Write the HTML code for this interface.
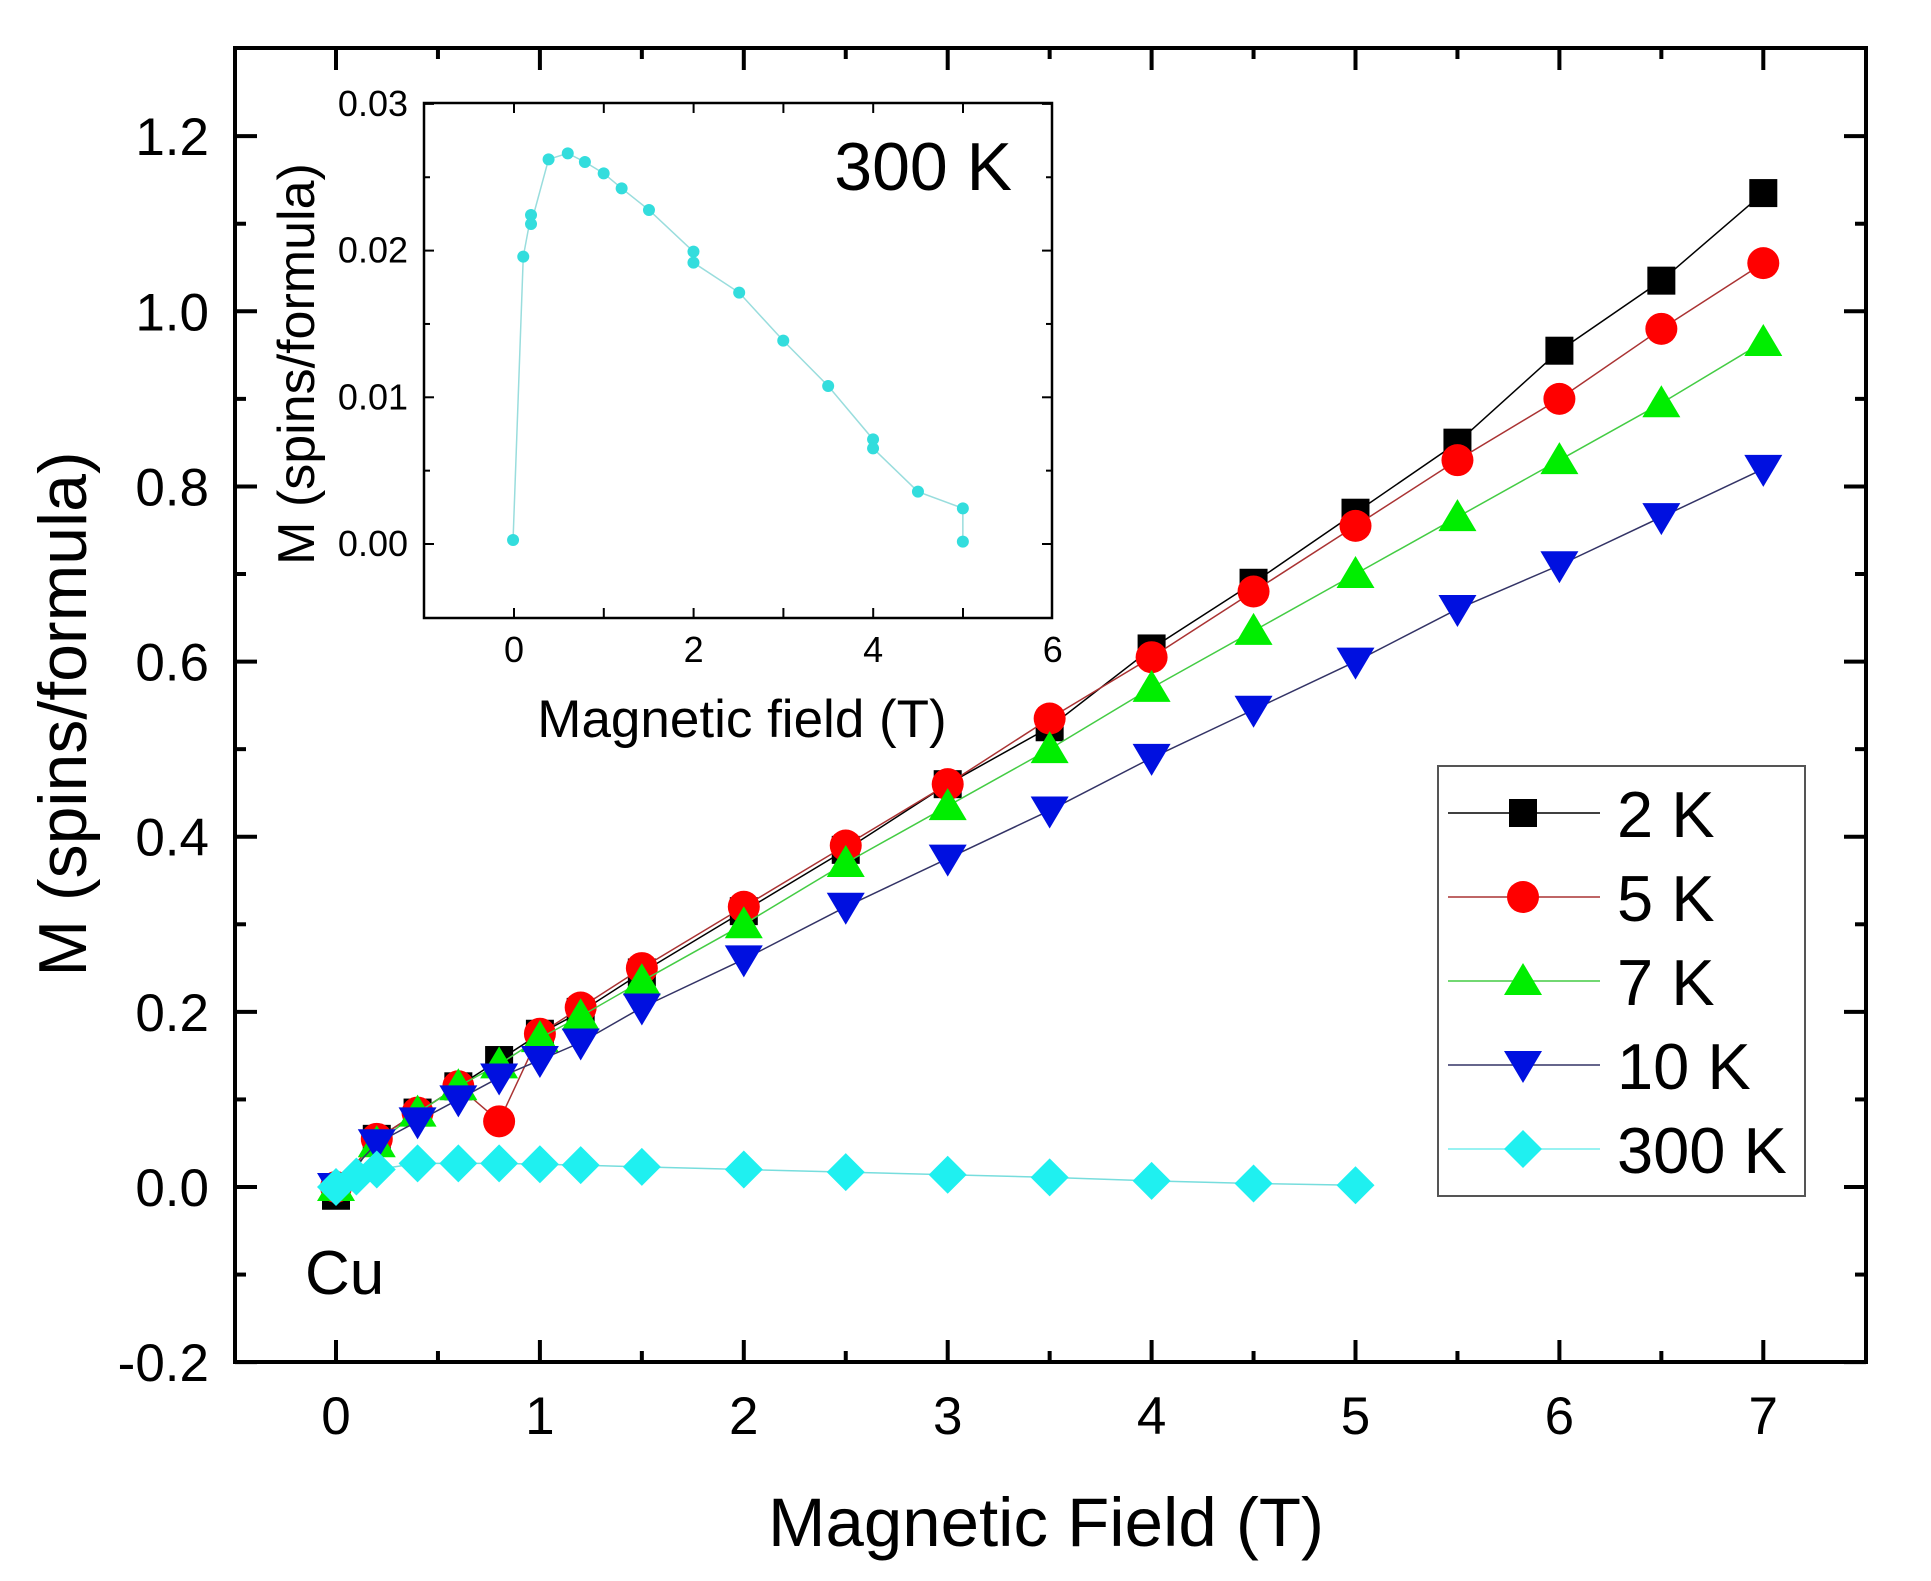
<!DOCTYPE html>
<html><head><meta charset="utf-8"><style>
html,body{margin:0;padding:0;background:#fff;}
svg{display:block;font-family:"Liberation Sans",Arial,sans-serif;}
</style></head><body>
<svg id="s" width="1931" height="1581" xmlns="http://www.w3.org/2000/svg"></svg>
<script>
const s=document.getElementById('s');let h='';
const X=v=>336+v*203.9, Y=v=>1187-v*875.7;
const L=235,R=1866,T=48,B=1362;
for(let v=-0.5;v<=7.51;v+=0.5){const x=X(v);if(x<L+2||x>R-2)continue;const maj=Math.abs(v-Math.round(v))<1e-6;const len=maj?22:11;
h+=`<line x1="${x}" y1="${B}" x2="${x}" y2="${B-len}" stroke="#000" stroke-width="4"/><line x1="${x}" y1="${T}" x2="${x}" y2="${T+len}" stroke="#000" stroke-width="4"/>`;
if(maj&&v>=0)h+=`<text x="${x}" y="1434" font-size="53" text-anchor="middle">${Math.round(v)}</text>`;}
for(let i=-2;i<=13;i++){const v=i/10;const y=Y(v);if(y<T+2||y>B+1)continue;const maj=i%2==0;const len=maj?22:11;
h+=`<line x1="${L}" y1="${y}" x2="${L+len}" y2="${y}" stroke="#000" stroke-width="4"/><line x1="${R}" y1="${y}" x2="${R-len}" y2="${y}" stroke="#000" stroke-width="4"/>`;
if(maj)h+=`<text x="209" y="${y+19}" font-size="53" text-anchor="end">${v.toFixed(1)}</text>`;}
h+=`<rect x="${L}" y="${T}" width="${R-L}" height="${B-T}" fill="none" stroke="#000" stroke-width="4"/>`;
h+=`<text x="1046" y="1546" font-size="69" text-anchor="middle">Magnetic Field (T)</text>`;
h+=`<text transform="translate(86,714) rotate(-90)" font-size="68" text-anchor="middle">M (spins/formula)</text>`;
h+=`<text x="305" y="1294" font-size="62">Cu</text>`;
const xs=[0,0.2,0.4,0.6,0.8,1,1.2,1.5,2,2.5,3,3.5,4,4.5,5,5.5,6,6.5,7];
const d={
k2:[-0.01,0.055,0.085,0.115,0.145,0.175,0.2,0.245,0.315,0.385,0.46,0.525,0.615,0.69,0.77,0.85,0.955,1.035,1.135],
k5:[0,0.055,0.085,0.115,0.075,0.175,0.205,0.25,0.32,0.39,0.46,0.535,0.605,0.68,0.755,0.83,0.90,0.98,1.055],
k7:[0,0.05,0.085,0.115,0.14,0.17,0.195,0.235,0.30,0.37,0.435,0.50,0.57,0.635,0.70,0.765,0.83,0.895,0.965],
k10:[0,0.05,0.075,0.1,0.125,0.145,0.165,0.205,0.26,0.32,0.375,0.43,0.49,0.545,0.60,0.66,0.71,0.765,0.82]};
const xs3=[0,0.1,0.2,0.4,0.6,0.8,1,1.2,1.5,2,2.5,3,3.5,4,4.5,5];
const d3=[0,0.012,0.02,0.027,0.027,0.027,0.026,0.025,0.023,0.02,0.017,0.014,0.011,0.007,0.004,0.002];
function mk(t,x,y,c){
 if(t=='sq')return `<rect x="${x-14}" y="${y-14}" width="28" height="28" fill="${c}"/>`;
 if(t=='ci')return `<circle cx="${x}" cy="${y}" r="16" fill="${c}"/>`;
 if(t=='up')return `<polygon points="${x},${y-18} ${x+19},${y+14} ${x-19},${y+14}" fill="${c}"/>`;
 if(t=='dn')return `<polygon points="${x},${y+18} ${x+19},${y-14} ${x-19},${y-14}" fill="${c}"/>`;
 if(t=='di')return `<polygon points="${x},${y-19} ${x+19},${y} ${x},${y+19} ${x-19},${y}" fill="${c}"/>`;}
const ser=[['k2','sq','#000','#000'],['k5','ci','#f00','#a33'],['k7','up','#0e0','#4c4'],['k10','dn','#0010e0','#336']];
function series(xa,ya,t,c,lc){let p=xa.map((v,i)=>X(v)+','+Y(ya[i])).join(' ');
 let r=`<polyline points="${p}" fill="none" stroke="${lc}" stroke-width="1.5"/>`;
 xa.forEach((v,i)=>r+=mk(t,X(v),Y(ya[i]),c));return r;}
ser.forEach(a=>h+=series(xs,d[a[0]],a[1],a[2],a[3]));
h+=series(xs3,d3,'di','#1ff0f0','#7dd');
h+=`<rect x="1438" y="766" width="367" height="430" fill="#fff" stroke="#555" stroke-width="2"/>`;
const lg=[['2 K','sq','#000','#000'],['5 K','ci','#f00','#a33'],['7 K','up','#0e0','#4c4'],['10 K','dn','#0010e0','#336'],['300 K','di','#1ff0f0','#7ee']];
lg.forEach((a,i)=>{const y=813+i*84;h+=`<line x1="1448" y1="${y}" x2="1600" y2="${y}" stroke="${a[3]}" stroke-width="1.5"/>`+mk(a[1],1523,y,a[2])+`<text x="1617" y="${y+24}" font-size="65">${a[0]}</text>`;});
const IL=424,IR=1052,IT=103,IB=618;
const IX=v=>514+v*89.8, IY=v=>544-v*14670;
h+=`<rect x="${IL}" y="${IT}" width="${IR-IL}" height="${IB-IT}" fill="#fff" stroke="none"/>`;
for(let v=-1;v<=6;v++){const x=IX(v);if(x>IL+2&&x<IR-2)h+=`<line x1="${x}" y1="${IB}" x2="${x}" y2="${IB-10}" stroke="#000" stroke-width="2"/><line x1="${x}" y1="${IT}" x2="${x}" y2="${IT+10}" stroke="#000" stroke-width="2"/>`;
 if(v>=0&&v%2==0)h+=`<text x="${x}" y="${IB+44}" font-size="36" text-anchor="middle">${v}</text>`;}
for(let i=0;i<=6;i++){const v=i*0.005;const y=IY(v);const len=i%2==0?10:6;
 h+=`<line x1="${IL}" y1="${y}" x2="${IL+len}" y2="${y}" stroke="#000" stroke-width="2"/><line x1="${IR}" y1="${y}" x2="${IR-len}" y2="${y}" stroke="#000" stroke-width="2"/>`;
 if(i%2==0)h+=`<text x="408" y="${y+12}" font-size="36" text-anchor="end">${v.toFixed(2)}</text>`;}
h+=`<rect x="${IL}" y="${IT}" width="${IR-IL}" height="${IB-IT}" fill="none" stroke="#000" stroke-width="2.5"/>`;
const ip=[[228,1320],[253,470],[272,345],[272,372],[315,178],[362,160],[404,186],[450,220],[494,265],[561,330],[670,455],[670,488],[782,578],[890,722],[1000,858],[1110,1018],[1110,1045],[1220,1175],[1330,1225],[1330,1325]].map(p=>[p[0]/2.45+420,p[1]/3+100]);
h+=`<polyline points="${ip.map(p=>p.join(',')).join(' ')}" fill="none" stroke="#9dd" stroke-width="1.5"/>`;
ip.forEach(p=>h+=`<circle cx="${p[0]}" cy="${p[1]}" r="6" fill="#33dddd"/>`);
h+=`<text x="1012" y="190" font-size="68" text-anchor="end">300 K</text>`;
h+=`<text x="742" y="737" font-size="53" text-anchor="middle">Magnetic field (T)</text>`;
h+=`<text transform="translate(314,364) rotate(-90)" font-size="52" text-anchor="middle">M (spins/formula)</text>`;
s.innerHTML=h;
</script>
</body></html>
